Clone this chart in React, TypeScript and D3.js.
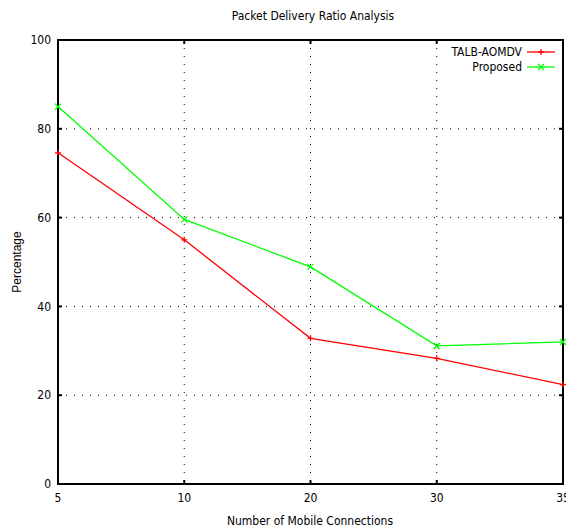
import { useEffect, useRef } from "react";
import * as d3 from "d3";

const categories = ["5", "10", "20", "30", "35"];
const talbValues = [74.6, 55.0, 32.8, 28.3, 22.4];
const proposedValues = [85.0, 59.6, 48.9, 31.1, 32.0];
const yTicks = [0, 20, 40, 60, 80, 100];

const series = [
  { name: "TALB-AOMDV", values: talbValues, color: "#ff0000", marker: "plus" },
  { name: "Proposed", values: proposedValues, color: "#00ff00", marker: "cross" },
];

const W = 566;
const H = 531;
const FONT = "'Liberation Sans Narrow', 'DejaVu Sans Condensed', sans-serif";

export default function App() {
  const svgRef = useRef<SVGSVGElement>(null);

  useEffect(() => {
    if (!svgRef.current) return;
    const svg = d3.select(svgRef.current);
    svg.selectAll("*").remove();

    const margin = { top: 40, right: 3, bottom: 47, left: 58 };
    const innerW = W - margin.left - margin.right;
    const innerH = H - margin.top - margin.bottom;

    const x = d3.scalePoint<string>().domain(categories).range([0, innerW]);
    const y = d3.scaleLinear().domain([0, 100]).range([innerH, 0]);

    svg.append("rect").attr("width", W).attr("height", H).attr("fill", "#fff");

    const g = svg.append("g").attr("transform", `translate(${margin.left},${margin.top})`);

    // grid (dotted)
    const innerX = categories.slice(1, -1);
    g.selectAll(".vgrid")
      .data(innerX)
      .enter()
      .append("line")
      .attr("x1", (d) => x(d)!)
      .attr("x2", (d) => x(d)!)
      .attr("y1", 0)
      .attr("y2", innerH)
      .attr("stroke", "#000")
      .attr("stroke-width", 1)
      .attr("stroke-dasharray", "1,7");
    g.selectAll(".hgrid")
      .data(yTicks.slice(1, -1))
      .enter()
      .append("line")
      .attr("x1", 0)
      .attr("x2", innerW)
      .attr("y1", (d) => y(d))
      .attr("y2", (d) => y(d))
      .attr("stroke", "#000")
      .attr("stroke-width", 1)
      .attr("stroke-dasharray", "1,7");

    // tick marks (inward, both sides)
    yTicks.forEach((t) => {
      g.append("line").attr("x1", 0).attr("x2", 4).attr("y1", y(t)).attr("y2", y(t)).attr("stroke", "#000").attr("stroke-width", 2);
      g.append("line").attr("x1", innerW - 4).attr("x2", innerW).attr("y1", y(t)).attr("y2", y(t)).attr("stroke", "#000").attr("stroke-width", 2);
    });
    categories.forEach((c) => {
      g.append("line").attr("x1", x(c)!).attr("x2", x(c)!).attr("y1", innerH).attr("y2", innerH - 4).attr("stroke", "#000").attr("stroke-width", 2);
      g.append("line").attr("x1", x(c)!).attr("x2", x(c)!).attr("y1", 0).attr("y2", 4).attr("stroke", "#000").attr("stroke-width", 2);
    });

    // frame
    g.append("rect")
      .attr("width", innerW)
      .attr("height", innerH)
      .attr("fill", "none")
      .attr("stroke", "#000")
      .attr("stroke-width", 2);

    // tick labels
    g.selectAll(".ylab")
      .data(yTicks)
      .enter()
      .append("text")
      .attr("x", -7)
      .attr("y", (d) => y(d))
      .attr("dy", "0.35em")
      .attr("text-anchor", "end")
      .attr("font-family", FONT)
      .attr("font-size", 12)
      .attr("fill", "#000")
      .text((d) => d);
    g.selectAll(".xlab")
      .data(categories)
      .enter()
      .append("text")
      .attr("x", (d) => x(d)!)
      .attr("y", innerH + 18)
      .attr("text-anchor", "middle")
      .attr("font-family", FONT)
      .attr("font-size", 12)
      .attr("fill", "#000")
      .text((d) => d);

    // lines
    const line = d3
      .line<number>()
      .x((_, i) => x(categories[i])!)
      .y((d) => y(d));

    series.forEach((s) => {
      g.append("path")
        .datum(s.values)
        .attr("d", line)
        .attr("fill", "none")
        .attr("stroke", s.color)
        .attr("stroke-width", 1.3);
      s.values.forEach((v, i) => {
        const cx = x(categories[i])!;
        const cy = y(v);
        const r = 3;
        if (s.marker === "plus") {
          g.append("path")
            .attr("d", `M${cx - r},${cy}H${cx + r}M${cx},${cy - r}V${cy + r}`)
            .attr("stroke", s.color)
            .attr("stroke-width", 1.3);
        } else {
          g.append("path")
            .attr("d", `M${cx - r},${cy - r}L${cx + r},${cy + r}M${cx - r},${cy + r}L${cx + r},${cy - r}`)
            .attr("stroke", s.color)
            .attr("stroke-width", 1.3);
        }
      });
    });

    // legend
    series.forEach((s, i) => {
      const ly = 12 + i * 15;
      const lx1 = innerW - 36;
      const lx2 = innerW - 8;
      g.append("text")
        .attr("x", lx1 - 5)
        .attr("y", ly)
        .attr("dy", "0.35em")
        .attr("text-anchor", "end")
        .attr("font-family", FONT)
        .attr("font-size", 12)
        .attr("fill", "#000")
        .text(s.name);
      g.append("line")
        .attr("x1", lx1)
        .attr("x2", lx2)
        .attr("y1", ly)
        .attr("y2", ly)
        .attr("stroke", s.color)
        .attr("stroke-width", 1.3);
      const cx = (lx1 + lx2) / 2;
      const r = 3;
      g.append("path")
        .attr(
          "d",
          s.marker === "plus"
            ? `M${cx - r},${ly}H${cx + r}M${cx},${ly - r}V${ly + r}`
            : `M${cx - r},${ly - r}L${cx + r},${ly + r}M${cx - r},${ly + r}L${cx + r},${ly - r}`
        )
        .attr("stroke", s.color)
        .attr("stroke-width", 1.3);
    });

    // title and axis labels
    svg.append("text")
      .attr("x", 313)
      .attr("y", 16)
      .attr("dy", "0.35em")
      .attr("text-anchor", "middle")
      .attr("font-family", FONT)
      .attr("font-size", 12)
      .attr("fill", "#000")
      .text("Packet Delivery Ratio Analysis");
    svg.append("text")
      .attr("x", 310)
      .attr("y", 521)
      .attr("dy", "0.35em")
      .attr("text-anchor", "middle")
      .attr("font-family", FONT)
      .attr("font-size", 12)
      .attr("fill", "#000")
      .text("Number of Mobile Connections");
    svg.append("text")
      .attr("transform", "translate(17,262) rotate(-90)")
      .attr("dy", "0.35em")
      .attr("text-anchor", "middle")
      .attr("font-family", "'Liberation Sans', Arial, sans-serif")
      .attr("font-size", 12)
      .attr("fill", "#000")
      .text("Percentage");
  }, []);

  return (
    <svg
      ref={svgRef}
      width={W}
      height={H}
      style={{ position: "absolute", left: 0, top: 0, display: "block" }}
    />
  );
}
